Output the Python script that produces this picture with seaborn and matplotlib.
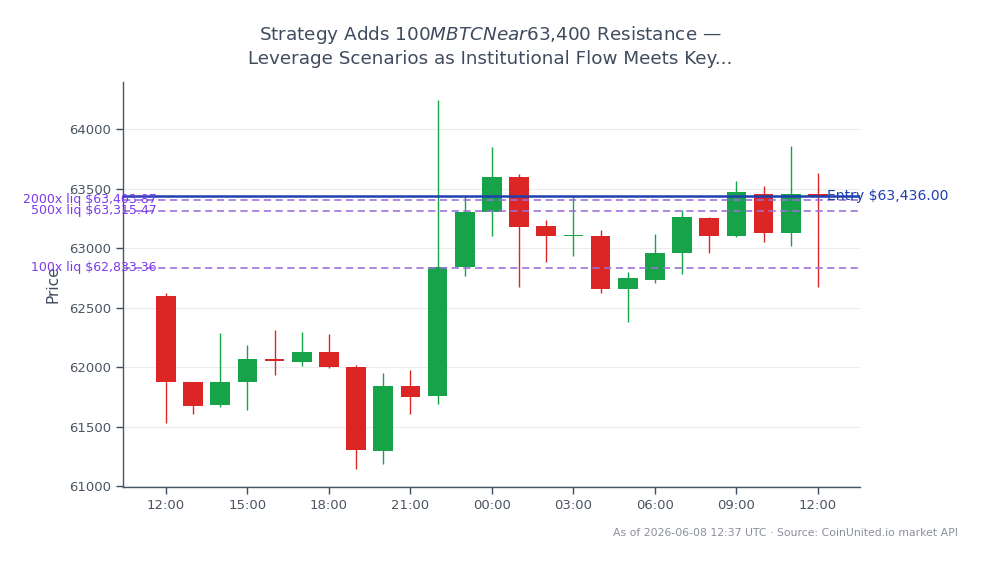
import matplotlib
matplotlib.use("Agg")
import matplotlib.pyplot as plt
import matplotlib.transforms as mtransforms
import seaborn as sns
import numpy as np
import pandas as pd

# ---- data ----
hours = list(range(25))
tick_positions = [0, 3, 6, 9, 12, 15, 18, 21, 24]
tick_labels = ["12:00", "15:00", "18:00", "21:00", "00:00", "03:00", "06:00", "09:00", "12:00"]
opens = [62600, 61875, 61680, 61875, 62070, 62045, 62130, 62005, 61295, 61845,
         61755, 62840, 63300, 63600, 63185, 63100, 63100, 62655, 62730, 62955,
         63255, 63100, 63455, 63125, 63452]
closes = [61875, 61675, 61875, 62070, 62055, 62130, 62000, 61305, 61845, 61750,
          62840, 63300, 63600, 63180, 63100, 63102, 62655, 62745, 62960, 63265,
          63100, 63470, 63130, 63455, 63436]
highs = [62620, 61880, 62290, 62190, 62310, 62300, 62275, 62020, 61955, 61980,
         64245, 63440, 63850, 63625, 63240, 63435, 63150, 62800, 63120, 63320,
         63265, 63560, 63525, 63860, 63630]
lows = [61535, 61610, 61670, 61640, 61935, 62010, 61990, 61150, 61185, 61610,
        61690, 62765, 63105, 62675, 62880, 62935, 62620, 62380, 62705, 62780,
        62955, 63090, 63055, 63015, 62670]
entry_price = 63436.00
liq_labels = ["2000x", "500x", "100x"]
liq_prices = [63403.87, 63315.47, 62833.36]

df = pd.DataFrame({"t": hours, "open": opens, "close": closes, "high": highs, "low": lows})
df["up"] = df["close"] >= df["open"]

GREEN = "#16a34a"
RED = "#dc2626"
TEXT = "#3f4b5e"
SPINE = "#475569"

sns.set_theme(style="white")
plt.rcParams["font.family"] = ["DejaVu Sans"]

fig = plt.figure(figsize=(9.81, 5.63), dpi=100)
ax = fig.add_axes([123 / 981, 1 - 487 / 563, (860 - 123) / 981, (487 - 82) / 563])

ax.grid(axis="y", color="#ececec", linewidth=0.8)
ax.set_axisbelow(True)

colors = [GREEN if u else RED for u in df["up"]]
# wicks
ax.vlines(df["t"], df["low"], df["high"], colors=colors, linewidth=1.0, zorder=2)
# bodies
bottoms = np.minimum(df["open"], df["close"])
heights = np.abs(df["close"] - df["open"])
heights = np.maximum(heights, 12)
ax.bar(df["t"], heights, bottom=bottoms, width=0.72, color=colors, linewidth=0, zorder=3)

trans = mtransforms.blended_transform_factory(ax.transAxes, ax.transData)

# entry line
ax.axhline(entry_price, color="#1e40af", linewidth=1.8, zorder=4)
ax.text(0.955, entry_price, f"Entry ${entry_price:,.2f}", color="#1e40af", fontsize=10.1,
        ha="left", va="center", transform=trans, zorder=5, clip_on=False)

# liquidation lines
for lab, p in zip(liq_labels, liq_prices):
    ax.axhline(p, color="#9b6fd8", linewidth=1.3, linestyle=(0, (4, 2.5)), alpha=0.9, zorder=4)
    ax.text(0.046, p, f"{lab} liq ${p:,.2f}", color="#7c3aed", fontsize=9,
            ha="right", va="center", transform=trans, zorder=5, clip_on=False)

ax.set_xlim(-1.58, 25.55)
ax.set_ylim(60995, 64394)
ax.set_xticks(tick_positions)
ax.set_xticklabels(tick_labels)
ax.set_yticks(np.arange(61000, 64001, 500))
ax.tick_params(axis="both", colors=TEXT, labelsize=9.5, length=5, width=1, direction="out",
               bottom=True, left=True)
ax.tick_params(axis="both", labelcolor="#4b5563")
for s in ["top", "right"]:
    ax.spines[s].set_visible(False)
for s in ["left", "bottom"]:
    ax.spines[s].set_color(SPINE)
    ax.spines[s].set_linewidth(1.0)

ax.set_ylabel("Price", fontsize=11, color=TEXT, labelpad=6)

fig.text(0.5, 1 - 46 / 563,
         "Strategy Adds $100M BTC Near $63,400 Resistance —\nLeverage Scenarios as Institutional Flow Meets Key...",
         ha="center", va="center", fontsize=13.2, color=TEXT, linespacing=1.35)

fig.text(958 / 981, 1 - 533 / 563, "As of 2026-06-08 12:37 UTC · Source: CoinUnited.io market API",
         ha="right", va="center", fontsize=7.85, color="#8a8f98")

fig.savefig("out.png", dpi=100, facecolor="white")
